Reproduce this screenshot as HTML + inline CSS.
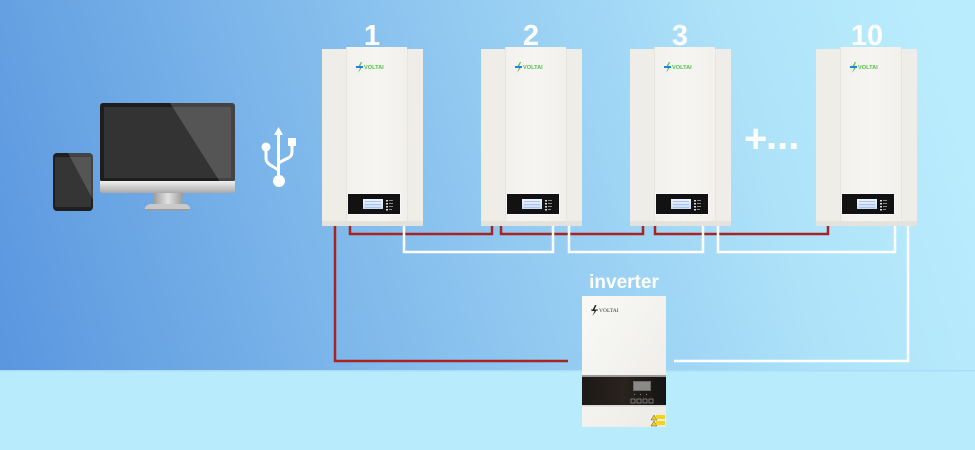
<!DOCTYPE html>
<html>
<head>
<meta charset="utf-8">
<style>
  html,body{margin:0;padding:0;width:975px;height:450px;overflow:hidden;background:#b8ecfd;}
  svg{display:block;}
  .num{font-family:"Liberation Sans",sans-serif;font-weight:bold;fill:#ffffff;}
</style>
</head>
<body>
<svg width="975" height="450" viewBox="0 0 975 450" xmlns="http://www.w3.org/2000/svg">
  <defs>
    <linearGradient id="bg" gradientUnits="userSpaceOnUse" x1="0" y1="330" x2="940" y2="60">
      <stop offset="0" stop-color="#5b97df"/>
      <stop offset="0.45" stop-color="#89c2ee"/>
      <stop offset="0.8" stop-color="#aee2f9"/>
      <stop offset="1" stop-color="#b9ecfc"/>
    </linearGradient>
    <linearGradient id="batMid" x1="0" y1="0" x2="1" y2="0">
      <stop offset="0" stop-color="#f2f1ed"/>
      <stop offset="0.5" stop-color="#f6f5f1"/>
      <stop offset="1" stop-color="#f1f0ec"/>
    </linearGradient>
    <linearGradient id="lcd" x1="0" y1="0" x2="0" y2="1">
      <stop offset="0" stop-color="#eef4ff"/>
      <stop offset="1" stop-color="#c9dcf7"/>
    </linearGradient>
    <linearGradient id="chin" x1="0" y1="0" x2="0" y2="1">
      <stop offset="0" stop-color="#f0f0f0"/>
      <stop offset="1" stop-color="#a9a9a9"/>
    </linearGradient>
    <linearGradient id="neck" x1="0" y1="0" x2="1" y2="0">
      <stop offset="0" stop-color="#9a9a9a"/>
      <stop offset="0.5" stop-color="#e2e2e2"/>
      <stop offset="1" stop-color="#9a9a9a"/>
    </linearGradient>
    <linearGradient id="inv" x1="0" y1="0" x2="1" y2="1">
      <stop offset="0" stop-color="#f9f9f6"/>
      <stop offset="1" stop-color="#ecebe6"/>
    </linearGradient>
    <linearGradient id="invBand" x1="0" y1="0" x2="1" y2="0">
      <stop offset="0" stop-color="#1c1917"/>
      <stop offset="0.5" stop-color="#2a231e"/>
      <stop offset="1" stop-color="#141414"/>
    </linearGradient>
    <clipPath id="monClip"><rect x="100" y="103" width="135" height="79" rx="3"/></clipPath>
    <clipPath id="tabClip"><rect x="53" y="153" width="40" height="58" rx="4"/></clipPath>

    <g id="battery">
      <rect x="0" y="0" width="101" height="177" fill="#efeee9"/>
      <rect x="0" y="0" width="24" height="177" fill="#eeede8"/>
      <rect x="24" y="-2" width="61" height="179" fill="url(#batMid)"/>
      <rect x="85" y="0" width="16" height="177" fill="#eeede8"/>
      <rect x="24" y="-2" width="1" height="179" fill="#e6e5df"/>
      <rect x="85" y="0" width="1" height="177" fill="#e6e5df"/>
      <rect x="0" y="172" width="101" height="5" fill="#e3e2dc"/>
      <polygon points="39,13 35.5,19 38,19 36,24 40.5,17.5 38,17.5 40,13" fill="#3cc43c"/>
      <rect x="34" y="17" width="7" height="2" fill="#2a7fd8"/>
      <text x="42" y="20" font-family="Liberation Sans, sans-serif" font-size="5.6" font-weight="bold" fill="#52c24a">VOLTAI</text>
      <rect x="25" y="144" width="54" height="22" fill="#f8f8f8"/>
      <rect x="26" y="145" width="52" height="20" fill="#121212"/>
      <rect x="41" y="150" width="20" height="10" fill="url(#lcd)"/>
      <rect x="43" y="152" width="16" height="1" fill="#a9c3ee"/>
      <rect x="43" y="155" width="16" height="1" fill="#a9c3ee"/>
      <rect x="43" y="158" width="16" height="1" fill="#a9c3ee"/>
      <rect x="64" y="151" width="2" height="1.5" fill="#ddd"/>
      <rect x="64" y="154" width="2" height="1.5" fill="#ddd"/>
      <rect x="64" y="157" width="2" height="1.5" fill="#ddd"/>
      <rect x="64" y="160" width="2" height="1.5" fill="#ddd"/>
      <rect x="67" y="151" width="4" height="1" fill="#888"/>
      <rect x="67" y="154" width="4" height="1" fill="#888"/>
      <rect x="67" y="157" width="4" height="1" fill="#888"/>
      <rect x="67" y="160" width="3" height="1" fill="#888"/>
    </g>
  </defs>

  <rect x="0" y="0" width="975" height="371" fill="url(#bg)"/>
  <rect x="0" y="371" width="975" height="79" fill="#b8ecfd"/>
  <rect x="0" y="370" width="975" height="1.5" fill="#a9ddf8"/>

  <g clip-path="url(#tabClip)">
    <rect x="53" y="153" width="40" height="58" fill="#1f1f1f"/>
    <rect x="55" y="157" width="36" height="50" fill="#353535"/>
    <polygon points="68,153 93,153 93,200" fill="#ffffff" opacity="0.16"/>
  </g>

  <g clip-path="url(#monClip)">
    <rect x="100" y="103" width="135" height="79" fill="#1d1d1d"/>
    <rect x="104" y="107" width="127" height="71" fill="#333333"/>
    <polygon points="170,103 235,103 235,182 220,182" fill="#ffffff" opacity="0.17"/>
  </g>
  <path d="M100,181 H235 V190 Q235,193 232,193 H103 Q100,193 100,190 Z" fill="url(#chin)"/>
  <polygon points="153,193 183,193 182,205 154,205" fill="url(#neck)"/>
  <path d="M150,204 H186 Q191,206 190,210 H145 Q144,206 150,204 Z" fill="#c9c9c9"/>
  <rect x="145" y="209" width="45" height="1.5" fill="#9a9a9a"/>

  <g fill="#ffffff" stroke="none">
    <polygon points="278.5,127 274,135 283,135"/>
    <rect x="277" y="134" width="3" height="46"/>
    <circle cx="279" cy="181" r="6"/>
    <circle cx="266" cy="147" r="4.5"/>
    <rect x="288" y="138" width="8" height="8"/>
  </g>
  <g fill="none" stroke="#ffffff" stroke-width="3" stroke-linejoin="round">
    <path d="M266,150 V158 Q266,163 272,166 L278.5,170"/>
    <path d="M292,145 V152 Q292,157 286,159 L278.5,163"/>
  </g>

  <g fill="none" stroke-width="2.5" stroke-linejoin="miter">
    <path d="M335,224 V361 H568" stroke="#a82424"/>
    <path d="M350,224 V234 H492 V224" stroke="#a82424"/>
    <path d="M501,224 V234 H643 V224" stroke="#a82424"/>
    <path d="M655,224 V234 H828 V224" stroke="#a82424"/>
    <path d="M404,224 V252 H553 V224" stroke="#ffffff"/>
    <path d="M569,224 V252 H703 V224" stroke="#ffffff"/>
    <path d="M718,224 V252 H895 V224" stroke="#ffffff"/>
    <path d="M908,224 V361 H674" stroke="#ffffff"/>
  </g>

  <use href="#battery" x="322" y="49"/>
  <use href="#battery" x="481" y="49"/>
  <use href="#battery" x="630" y="49"/>
  <use href="#battery" x="816" y="49"/>

  <text class="num" x="372" y="45" font-size="29" text-anchor="middle">1</text>
  <text class="num" x="531" y="45" font-size="29" text-anchor="middle">2</text>
  <text class="num" x="680" y="45" font-size="29" text-anchor="middle">3</text>
  <text class="num" x="867" y="45" font-size="29" text-anchor="middle">10</text>

  <text class="num" x="744" y="152" font-size="40">+<tspan x="766" y="149">...</tspan></text>

  <text class="num" x="624" y="288" font-size="19" text-anchor="middle">inverter</text>
  <rect x="582" y="296" width="84" height="131" fill="url(#inv)"/>
  <rect x="582" y="375" width="84" height="2" fill="#9a9a98"/>
  <rect x="582" y="377" width="84" height="29" fill="url(#invBand)"/>
  <rect x="582" y="405" width="84" height="1.5" fill="#d8d8d8"/>
  <rect x="633" y="381" width="18" height="10" fill="#6b6b68"/>
  <rect x="634" y="382" width="16" height="8" fill="#8a8a86"/>
  <rect x="631" y="399" width="4" height="4" fill="none" stroke="#999" stroke-width="0.7"/>
  <rect x="637" y="399" width="4" height="4" fill="none" stroke="#999" stroke-width="0.7"/>
  <rect x="643" y="399" width="4" height="4" fill="none" stroke="#999" stroke-width="0.7"/>
  <rect x="649" y="399" width="4" height="4" fill="none" stroke="#999" stroke-width="0.7"/>
  <rect x="634" y="394" width="1" height="1" fill="#888"/>
  <rect x="640" y="394" width="1" height="1" fill="#888"/>
  <rect x="646" y="394" width="1" height="1" fill="#888"/>
  <polygon points="651,420 654,415 657,420" fill="#f0d020" stroke="#333" stroke-width="0.4"/>
  <rect x="656" y="415" width="9" height="4" fill="#f2d41c"/>
  <polygon points="651,426 654,421 657,426" fill="#f0d020" stroke="#333" stroke-width="0.4"/>
  <rect x="656" y="421" width="9" height="4" fill="#f2d41c"/>
  <polygon points="595,305 592,311 594.5,311 592.5,316 597,309.5 594.5,309.5 596.5,305" fill="#222"/>
  <rect x="591" y="309.5" width="7" height="1" fill="#222"/>
  <text x="599" y="312" font-family="Liberation Serif, serif" font-size="5.5" fill="#333">VOLTAI</text>
</svg>
</body>
</html>
